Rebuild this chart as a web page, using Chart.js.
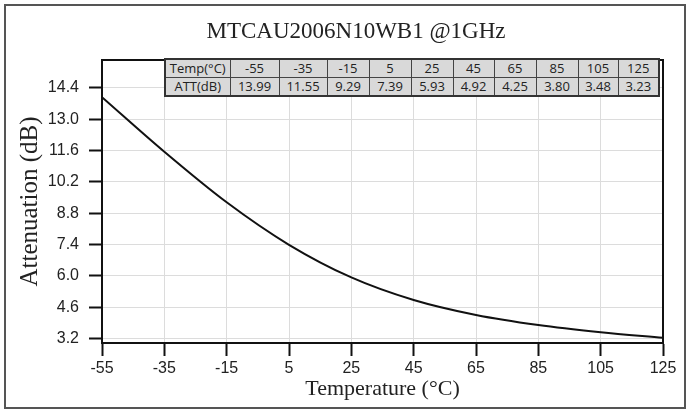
<!DOCTYPE html>
<html>
<head>
<meta charset="utf-8">
<script src="https://cdn.jsdelivr.net/npm/chart.js@4.4.0/dist/chart.umd.min.js"></script>
<style>
  html, body { margin:0; padding:0; background:#fff; }
  #wrap { position:relative; width:688px; height:412px; }
  #chart { position:absolute; left:0; top:0; }
  #frame { position:absolute; left:4px; top:4px; width:682px; height:405px; box-sizing:border-box; border:2px solid #555; pointer-events:none; }
  #attTable { position:absolute; left:164px; top:58px; border-collapse:collapse; font-family:"Open Sans", sans-serif; font-size:13px; color:#222; background:#d9d9d9; table-layout:fixed; border:2px solid #333; }
  #attTable td { border:1px solid #444; height:17px; padding:0; text-align:center; line-height:17px; white-space:nowrap; }
</style>
</head>
<body>
<div id="wrap">
  <canvas id="chart" width="688" height="412"></canvas>
  <table id="attTable"><colgroup id="cols"></colgroup><tbody><tr id="rowTemp"></tr><tr id="rowAtt"></tr></tbody></table>
  <div id="frame"></div>
</div>
<script>
/* ===== Data ===== */
const temps = [-55, -35, -15, 5, 25, 45, 65, 85, 105, 125];
const attDb = [13.99, 11.55, 9.29, 7.39, 5.93, 4.92, 4.25, 3.80, 3.48, 3.23];
const xTicks = [-55, -35, -15, 5, 25, 45, 65, 85, 105, 125];
const yTicks = [3.2, 4.6, 6.0, 7.4, 8.8, 10.2, 11.6, 13.0, 14.4];
const chartTitle = "MTCAU2006N10WB1 @1GHz";
const tempLabel = "Temp(°C)";
const attLabel = "ATT(dB)";

// table column widths (px), layout only
const colWidths = [65, 49, 48, 42, 42, 42, 41, 42, 42, 40, 41];

/* ===== Table ===== */
function renderTable(){
  const cols = document.getElementById("cols");
  colWidths.forEach(w=>{
    const c = document.createElement("col");
    c.style.width = w + "px";
    cols.appendChild(c);
  });
  const r1 = document.getElementById("rowTemp");
  const r2 = document.getElementById("rowAtt");
  const head1 = document.createElement("td"); head1.textContent = tempLabel; r1.appendChild(head1);
  const head2 = document.createElement("td"); head2.textContent = attLabel; r2.appendChild(head2);
  temps.forEach((t, i)=>{
    const a = document.createElement("td"); a.textContent = t; r1.appendChild(a);
    const b = document.createElement("td"); b.textContent = attDb[i].toFixed(2); r2.appendChild(b);
  });
}

/* ===== Frame round the plot area ===== */
const plotFrame = {
  id: "plotFrame",
  afterDraw(chart){
    const {ctx, chartArea:a} = chart;
    ctx.save();
    ctx.strokeStyle = "#111";
    ctx.lineWidth = 2;
    ctx.beginPath();
    ctx.moveTo(a.left, a.top);
    ctx.lineTo(a.right, a.top);
    ctx.lineTo(a.right, a.bottom);
    ctx.stroke();
    ctx.restore();
  }
};

/* ===== Chart ===== */
function initChart(){
  const ctx = document.getElementById("chart").getContext("2d");
  new Chart(ctx, {
    type: "line",
    data: {
      datasets: [{
        data: temps.map((t, i)=>({x:t, y:attDb[i]})),
        borderColor: "#111",
        borderWidth: 2,
        pointRadius: 0,
        cubicInterpolationMode: "monotone",
        fill: false
      }]
    },
    options: {
      responsive: false,
      animation: false,
      layout: { padding: { left:24, right:0, top:0, bottom:0 } },
      plugins: {
        legend: { display:false },
        tooltip: { enabled:false },
        title: {
          display: true,
          text: chartTitle,
          color: "#222",
          font: { family:"Liberation Serif", size:23, weight:"normal" },
          padding: { top:18, bottom:14.4 }
        }
      },
      scales: {
        x: {
          type: "linear",
          min: -55, max: 125,
          afterBuildTicks: s => { s.ticks = xTicks.map(v=>({value:v})); },
          afterFit: s => { s.height = 69; },
          grid: { color:"#dcdcdc", lineWidth:1, tickColor:"#111", tickWidth:2, tickLength:13 },
          border: { color:"#111", width:2 },
          ticks: { color:"#222", padding:3, font:{ family:"Liberation Sans", size:16 }, maxRotation:0 },
          title: { display:true, text:"Temperature (°C)", color:"#222",
                   font:{ family:"Liberation Serif", size:22 }, padding:{ top:0, bottom:10 } }
        },
        y: {
          min: 3.0, max: 15.65,
          afterBuildTicks: s => { s.ticks = yTicks.map(v=>({value:v})); },
          afterFit: s => { s.width = 78; },
          grid: { color:"#dcdcdc", lineWidth:1, tickColor:"#111", tickWidth:2, tickLength:13 },
          border: { color:"#111", width:2 },
          ticks: { color:"#222", padding:10, font:{ family:"Liberation Sans", size:16 },
                   callback: v => Number(v).toFixed(1) },
          title: { display:true, text:"Attenuation (dB)", color:"#222",
                   font:{ family:"Liberation Serif", size:25 }, padding:{ top:-9, bottom:0 } }
        },
        yRight: {
          position: "right",
          min: 3.0, max: 15.65,
          afterFit: s => { s.width = 25; },
          grid: { display:false },
          border: { display:false },
          ticks: { display:false }
        }
      }
    },
    plugins: [plotFrame]
  });
}

window.addEventListener("DOMContentLoaded", ()=>{
  renderTable();
  initChart();
});
</script>
</body>
</html>
